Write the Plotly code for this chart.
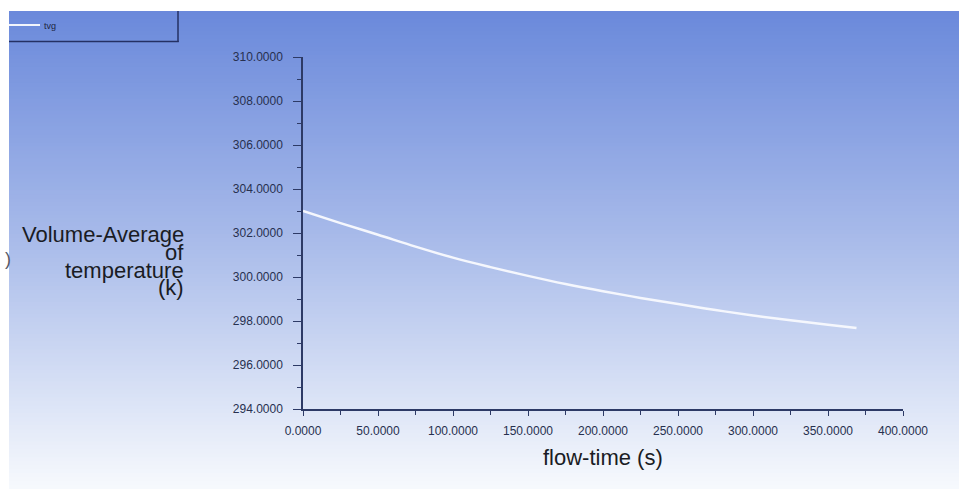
import plotly.graph_objects as go

# ---- data ----
flow_time = [0, 25, 50, 75, 100, 125, 150, 175, 200, 225, 250, 275, 300, 325, 350, 369]
tvg = [303.0, 302.45, 301.92, 301.38, 300.88, 300.45, 300.05, 299.68, 299.35,
       299.05, 298.77, 298.50, 298.25, 298.03, 297.83, 297.68]
series_name = "tvg"
x_title = "flow-time (s)"
y_title_lines = ["Volume-Average", "of", "temperature", "(k)"]

W, H = 959, 489


def px(x):
    return x / W


def py(y):
    return 1 - y / H


fig = go.Figure()
fig.add_trace(go.Scatter(
    x=flow_time, y=tvg, mode="lines", name=series_name,
    line=dict(color="#f5f7fd", width=2.5, shape="spline"),
    showlegend=False,
))

# ---- gradient background (styling only) ----
stops = [(11, (106, 137, 219)), (245, (170, 188, 234)), (489, (247, 249, 253))]
shapes = []
n = 120
top, bot = 11, 489
for i in range(n):
    y0 = top + (bot - top) * i / n
    y1 = top + (bot - top) * (i + 1) / n
    yc = (y0 + y1) / 2
    for (ya, ca), (yb, cb) in zip(stops[:-1], stops[1:]):
        if ya <= yc <= yb:
            t = (yc - ya) / (yb - ya)
            c = tuple(round(ca[k] + (cb[k] - ca[k]) * t) for k in range(3))
            break
    shapes.append(dict(type="rect", xref="paper", yref="paper",
                       x0=px(9), x1=1, y0=py(min(y1 + 2, bot)), y1=py(y0),
                       fillcolor="rgb(%d,%d,%d)" % c, line=dict(width=0),
                       layer="below"))

# legend box (partially cropped in the reference)
border = "#243063"
shapes.append(dict(type="line", xref="paper", yref="paper",
                   x0=px(178), x1=px(178), y0=py(11), y1=py(42),
                   line=dict(color=border, width=1.5)))
shapes.append(dict(type="line", xref="paper", yref="paper",
                   x0=px(9), x1=px(178.7), y0=py(41.5), y1=py(41.5),
                   line=dict(color=border, width=1.5)))
shapes.append(dict(type="line", xref="paper", yref="paper",
                   x0=px(9), x1=px(40), y0=py(25), y1=py(25),
                   line=dict(color="#f2f5fc", width=2)))

annotations = [
    dict(text=series_name, x=px(42), y=py(25.5), xref="paper", yref="paper",
         xanchor="left", yanchor="middle", showarrow=False,
         font=dict(family="Liberation Sans, Arial", size=9, color="#1d2540")),
    dict(text=x_title, x=px(603), y=py(457), xref="paper", yref="paper",
         xanchor="center", yanchor="middle", showarrow=False,
         font=dict(family="Liberation Sans, Arial", size=22, color="#1a1c24")),
    dict(text=")", x=px(13), y=py(259), xref="paper", yref="paper",
         xanchor="right", yanchor="middle", showarrow=False,
         font=dict(family="Liberation Sans, Arial", size=18, color="#555a66")),
]
for line_text, yc in zip(y_title_lines, [235, 252.5, 270, 287.5]):
    annotations.append(dict(text=line_text, x=px(186), y=py(yc),
                            xref="paper", yref="paper",
                            xanchor="right", yanchor="middle", showarrow=False,
                            font=dict(family="Liberation Sans, Arial", size=22,
                                      color="#1a1c24")))

axis_col = "#2d3a66"
tick_font = dict(family="Liberation Sans, Arial", size=12, color="#27304f")

fig.update_layout(
    width=W, height=H,
    margin=dict(l=0, r=0, t=0, b=0, autoexpand=False),
    paper_bgcolor="white",
    plot_bgcolor="rgba(0,0,0,0)",
    shapes=shapes,
    annotations=annotations,
    xaxis=dict(
        domain=[px(303), px(903)], range=[0, 400], dtick=50, tick0=0,
        tickformat=".4f", showgrid=False, zeroline=False,
        showline=True, linecolor=axis_col, linewidth=1.5,
        ticks="outside", ticklen=5, tickwidth=1, tickcolor=axis_col,
        minor=dict(ticks="outside", ticklen=4, dtick=25, tickcolor=axis_col,
                   showgrid=False),
        tickfont=tick_font, ticklabelstandoff=5, automargin=False,
        fixedrange=True,
    ),
    yaxis=dict(
        domain=[py(409), py(57)], range=[294, 310], dtick=2, tick0=294,
        tickformat=".4f", showgrid=False, zeroline=False,
        showline=True, linecolor=axis_col, linewidth=1.5,
        ticks="outside", ticklen=8, tickwidth=1, tickcolor=axis_col,
        minor=dict(ticks="outside", ticklen=4, dtick=1, tickcolor=axis_col,
                   showgrid=False),
        tickfont=tick_font, ticklabelstandoff=8, automargin=False,
        fixedrange=True,
    ),
    showlegend=False,
)

fig.write_html("out.html", config={"displayModeBar": False},
               post_script="document.body.style.margin='0';document.body.style.overflow='hidden';")
